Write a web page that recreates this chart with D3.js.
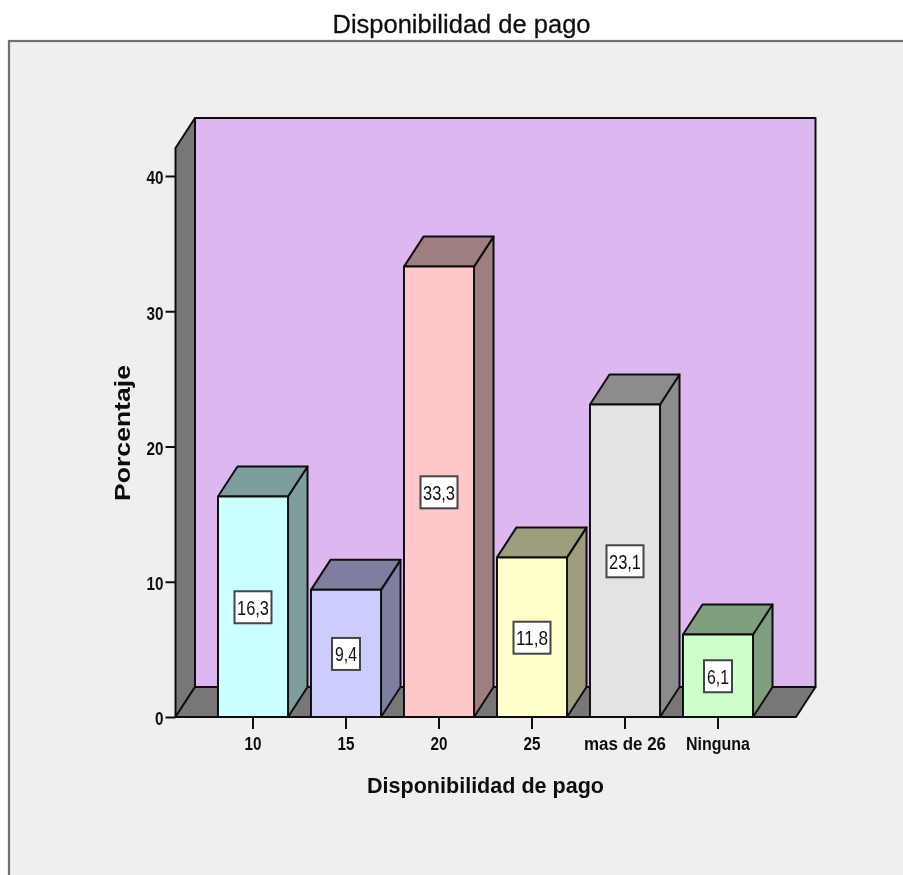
<!DOCTYPE html>
<html><head><meta charset="utf-8">
<script src="https://cdn.jsdelivr.net/npm/d3@7"></script>
<style>
html,body{margin:0;padding:0;background:#fff;overflow:hidden}
text{font-family:"Liberation Sans",Arial,sans-serif;fill:#111}
</style></head><body>
<svg id="c" width="903" height="875" style="display:block"></svg>
<script>
const categories=["10","15","20","25","mas de 26","Ninguna"];
const values=[16.3,9.4,33.3,11.8,23.1,6.1];
const valueLabels=["16,3","9,4","33,3","11,8","23,1","6,1"];
const yTicks=[0,10,20,30,40];
const frontColors=["#ccffff","#ccccff","#ffc8c8","#ffffcc","#e3e3e3","#ccffcc"];
const sideColors=["#7e9e9e","#7e7e9e","#9e7e7e","#9e9e7e","#8c8c8c","#7e9e7e"];
const chartTitle="Disponibilidad de pago";
const yTitle="Porcentaje";
const xTitle="Disponibilidad de pago";
const axisMax=42.07;

const svg=d3.select("#c");
const defs=svg.append("defs");
defs.append("filter").attr("id","soft").attr("x","0").attr("y","0").attr("width","1").attr("height","1")
  .append("feGaussianBlur").attr("stdDeviation",0.5);
const root=svg.append("g").attr("filter","url(#soft)");
root.append("rect").attr("width",903).attr("height",875).attr("fill","#fff");

const dx=19.5,dy=-30;
const y=d3.scaleLinear().domain([0,40]).range([717,176]);
const x=d3.scaleBand().domain(categories).range([206.5,764.5]).paddingInner(0.247).paddingOuter(0.1235);
const x0=175.5,x1=796;
const line=d3.line();
const poly=(g,pts,fill,sw=2)=>g.append("path").attr("d",line(pts)+"Z").attr("fill",fill)
  .attr("stroke","#111").attr("stroke-width",sw).attr("stroke-linejoin","round");
const fit=(sel,w)=>sel.attr("textLength",w).attr("lengthAdjust","spacingAndGlyphs");

// panel
root.append("rect").attr("x",9).attr("y",41).attr("width",920).attr("height",860)
  .attr("fill","#efefef").attr("stroke","#6f6f6f").attr("stroke-width",2.2);

// title
fit(root.append("text").attr("x",461.5).attr("y",33).attr("text-anchor","middle")
  .attr("font-size",26).style("stroke","#111").style("stroke-width",0.3).text(chartTitle),258);

// walls
const yTop=y(axisMax),base=y(0);
const walls=root.append("g");
poly(walls,[[x0+dx,yTop+dy],[x1+dx,yTop+dy],[x1+dx,base+dy],[x0+dx,base+dy]],"#ddb8f0");
poly(walls,[[x0,base],[x0,yTop],[x0+dx,yTop+dy],[x0+dx,base+dy]],"#777777");
poly(walls,[[x0,base],[x0+dx,base+dy],[x1+dx,base+dy],[x1,base]],"#777777");

// bars
const bars=root.selectAll("g.bar").data(categories).join("g").attr("class","bar");
bars.each(function(c,i){
  const g=d3.select(this),l=x(c),r=l+x.bandwidth(),t=y(values[i]);
  poly(g,[[r,base],[r,t],[r+dx,t+dy],[r+dx,base+dy]],sideColors[i]);
  poly(g,[[l,t],[l+dx,t+dy],[r+dx,t+dy],[r,t]],sideColors[i]);
  poly(g,[[l,base],[l,t],[r,t],[r,base]],frontColors[i]);
  const cx=l+x.bandwidth()/2,cy=y(values[i]/2)+0.5;
  const w=valueLabels[i].length===4?37:28,h=32;
  g.append("rect").attr("x",cx-w/2).attr("y",cy-h/2).attr("width",w).attr("height",h)
    .attr("fill","#fff").attr("stroke","#444").attr("stroke-width",2);
  fit(g.append("text").attr("x",cx).attr("y",cy+7.5).attr("text-anchor","middle")
    .attr("font-size",21).text(valueLabels[i]),valueLabels[i].length===4?32:22);
});

// axes
const yAxis=root.append("g").attr("transform",`translate(${x0},0)`)
  .call(d3.axisLeft(y).tickValues(yTicks).tickSize(10).tickPadding(2));
yAxis.select(".domain").remove();
yAxis.selectAll("line").attr("stroke","#111").attr("stroke-width",2);
const ytext=yAxis.selectAll("text").attr("font-size",19).attr("font-weight","bold")
  .attr("dy","0.41em").style("font-family",'"Liberation Sans"').style("fill","#111");
ytext.each(function(d){fit(d3.select(this),d===0?8.5:17);});

const xAxis=root.append("g").attr("transform",`translate(0,${base})`)
  .call(d3.axisBottom(x).tickSize(12).tickPadding(8));
xAxis.select(".domain").remove();
xAxis.selectAll("line").attr("stroke","#111").attr("stroke-width",2);
const xWidths=[17,17,17,17,82,64];
xAxis.selectAll("text").attr("font-size",18).attr("font-weight","bold")
  .style("font-family",'"Liberation Sans"').style("fill","#111")
  .each(function(d,i){fit(d3.select(this),xWidths[i]);});

// axis titles
fit(root.append("text").attr("x",485.5).attr("y",793).attr("text-anchor","middle")
  .attr("font-size",22).attr("font-weight","bold").text(xTitle),237);
fit(root.append("text").attr("transform","translate(130,433) rotate(-90)").attr("text-anchor","middle")
  .attr("font-size",22).attr("font-weight","bold").text(yTitle),136);
</script>
</body></html>
